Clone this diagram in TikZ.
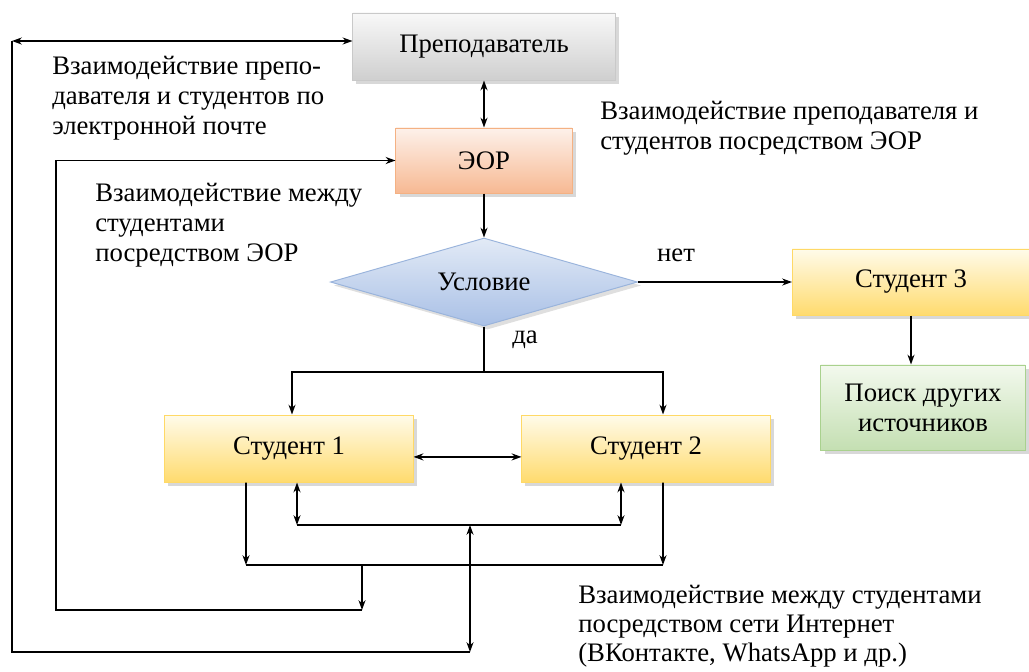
\documentclass[tikz,border=0pt]{standalone}
\usepackage{fontspec}
\setmainfont{Liberation Serif}
\usetikzlibrary{shapes.geometric,shadows,arrows.meta}

\definecolor{grayTop}{HTML}{F8F8F8}
\definecolor{grayBot}{HTML}{CFCFCF}
\definecolor{grayEdge}{HTML}{C9C9C9}
\definecolor{eorTop}{HTML}{FDF1EA}
\definecolor{eorBot}{HTML}{F7B993}
\definecolor{eorEdge}{HTML}{F4B183}
\definecolor{stTop}{HTML}{FFFBEA}
\definecolor{stBot}{HTML}{FFDB6E}
\definecolor{stEdge}{HTML}{FFD966}
\definecolor{condTop}{HTML}{E2EAF6}
\definecolor{condBot}{HTML}{A9C0E6}
\definecolor{condEdge}{HTML}{9AB4DC}
\definecolor{okTop}{HTML}{F3F9EE}
\definecolor{okBot}{HTML}{C4DFB2}
\definecolor{okEdge}{HTML}{A9D18E}

\tikzset{
  txt/.style={font=\fontsize{19}{21.4}\selectfont},
  box/.style={txt, draw, line width=0.7pt, inner sep=2pt,
    drop shadow={shadow xshift=2.5pt, shadow yshift=-2.5pt, fill=black!30}},
  graybox/.style={box, draw=grayEdge, top color=grayTop, bottom color=grayBot},
  eorbox/.style={box, draw=eorEdge, top color=eorTop, bottom color=eorBot},
  studbox/.style={box, draw=stEdge, top color=stTop, bottom color=stBot,
    minimum width=6.2cm, minimum height=1.675cm},
  okbox/.style={box, draw=okEdge, top color=okTop, bottom color=okBot, align=center},
  cond/.style={txt, diamond, draw=condEdge, line width=0.7pt, inner sep=0pt,
    top color=condTop, bottom color=condBot, shape aspect=3.5,
    drop shadow={shadow xshift=2.5pt, shadow yshift=-2.5pt, fill=black!25}},
  note/.style={txt, align=left, anchor=north west, inner sep=0pt},
  arr/.style={->, line width=1.1pt},
  dbl/.style={<->, line width=1.1pt},
  wire/.style={line width=1.1pt}
}

\begin{document}
\begin{tikzpicture}[x=0.025cm, y=-0.025cm, >={Stealth[length=7pt,width=5pt]}]
    \useasboundingbox (0,0) rectangle (1029,671);

    % blocks
    \node[graybox, minimum width=6.55cm, minimum height=1.675cm] (prep) at (484,46.5) {Преподаватель};
    \node[eorbox, minimum width=4.4cm, minimum height=1.625cm] (eor) at (484,160.5) {ЭОР};
    \node[cond, minimum width=7.675cm, minimum height=2.2cm] (cond) at (484,282) {Условие};
    \node[studbox, minimum width=5.925cm, minimum height=1.65cm] (stud3) at (911,282) {Студент 3};
    \node[okbox, minimum width=5.1cm, minimum height=2.125cm] (search) at (923,407.5) {Поиск других\\источников};
    \node[studbox] (stud1) at (289,448.5) {Студент 1};
    \node[studbox] (stud2) at (646,448.5) {Студент 2};

    % labels
    \node[note] (mailTxt) at (52,56) {Взаимодействие препо-\\давателя и студентов по\\электронной почте};
    \node[note] (eorTxt) at (600,101) {Взаимодействие преподавателя и\\студентов посредством ЭОР};
    \node[note] (peerTxt) at (95,183) {Взаимодействие между\\студентами\\посредством ЭОР};
    \node[note, font=\fontsize{19}{20.6}\selectfont] (webTxt) at (578,585) {Взаимодействие между студентами\\посредством сети Интернет\\(ВКонтакте, WhatsApp и др.)};
    \node[txt, inner sep=0pt] (noTxt) at (676,255) {нет};
    \node[txt, inner sep=0pt] (yesTxt) at (525,340) {да};

    % main flow
    \draw[dbl] (prep.south) -- (eor.north);
    \draw[arr] (eor.south) -- (cond.north);
    \draw[arr] (cond.east) -- (stud3.west);
    \draw[arr] (stud3.south) -- (search.north -| stud3.south);

    \coordinate (fork) at (484,372);
    \draw[wire] (cond.south) -- (fork);
    \draw[arr] (fork) -| ([xshift=0.075cm]stud1.north);
    \draw[arr] (fork) -| ([xshift=0.425cm]stud2.north);
    \draw[dbl] ([yshift=-0.21cm]stud1.east) -- ([yshift=-0.21cm]stud2.west);

    % internet bus back to the teacher
    \coordinate (netL) at (297,525);
    \coordinate (netR) at (621,525);
    \coordinate (net) at (470,525);
    \coordinate (netB) at (470,652);
    \coordinate (outL) at (12,652);
    \coordinate (outT) at (12,41);
    \draw[dbl] ([xshift=0.2cm]stud1.south) -- (netL);
    \draw[dbl] ([xshift=-0.625cm]stud2.south) -- (netR);
    \draw[wire] (netL) -- (netR);
    \draw[dbl] (net) -- (netB);
    \draw[wire] (netB) -- (outL) -- (outT);
    \draw[dbl] (outT) -- (prep.west |- outT);

    % students back to the EOR
    \coordinate (backL) at (246,565);
    \coordinate (backR) at (663,565);
    \coordinate (back) at (362,565);
    \coordinate (backB) at (362,610);
    \coordinate (backC) at (56,610);
    \draw[arr] ([xshift=-1.075cm]stud1.south) -- (backL);
    \draw[arr] ([xshift=0.425cm]stud2.south) -- (backR);
    \draw[wire] (backL) -- (backR);
    \draw[arr] (back) -- (backB);
    \draw[arr] (backB) -- (backC) |- (eor.west);
\end{tikzpicture}
\end{document}
